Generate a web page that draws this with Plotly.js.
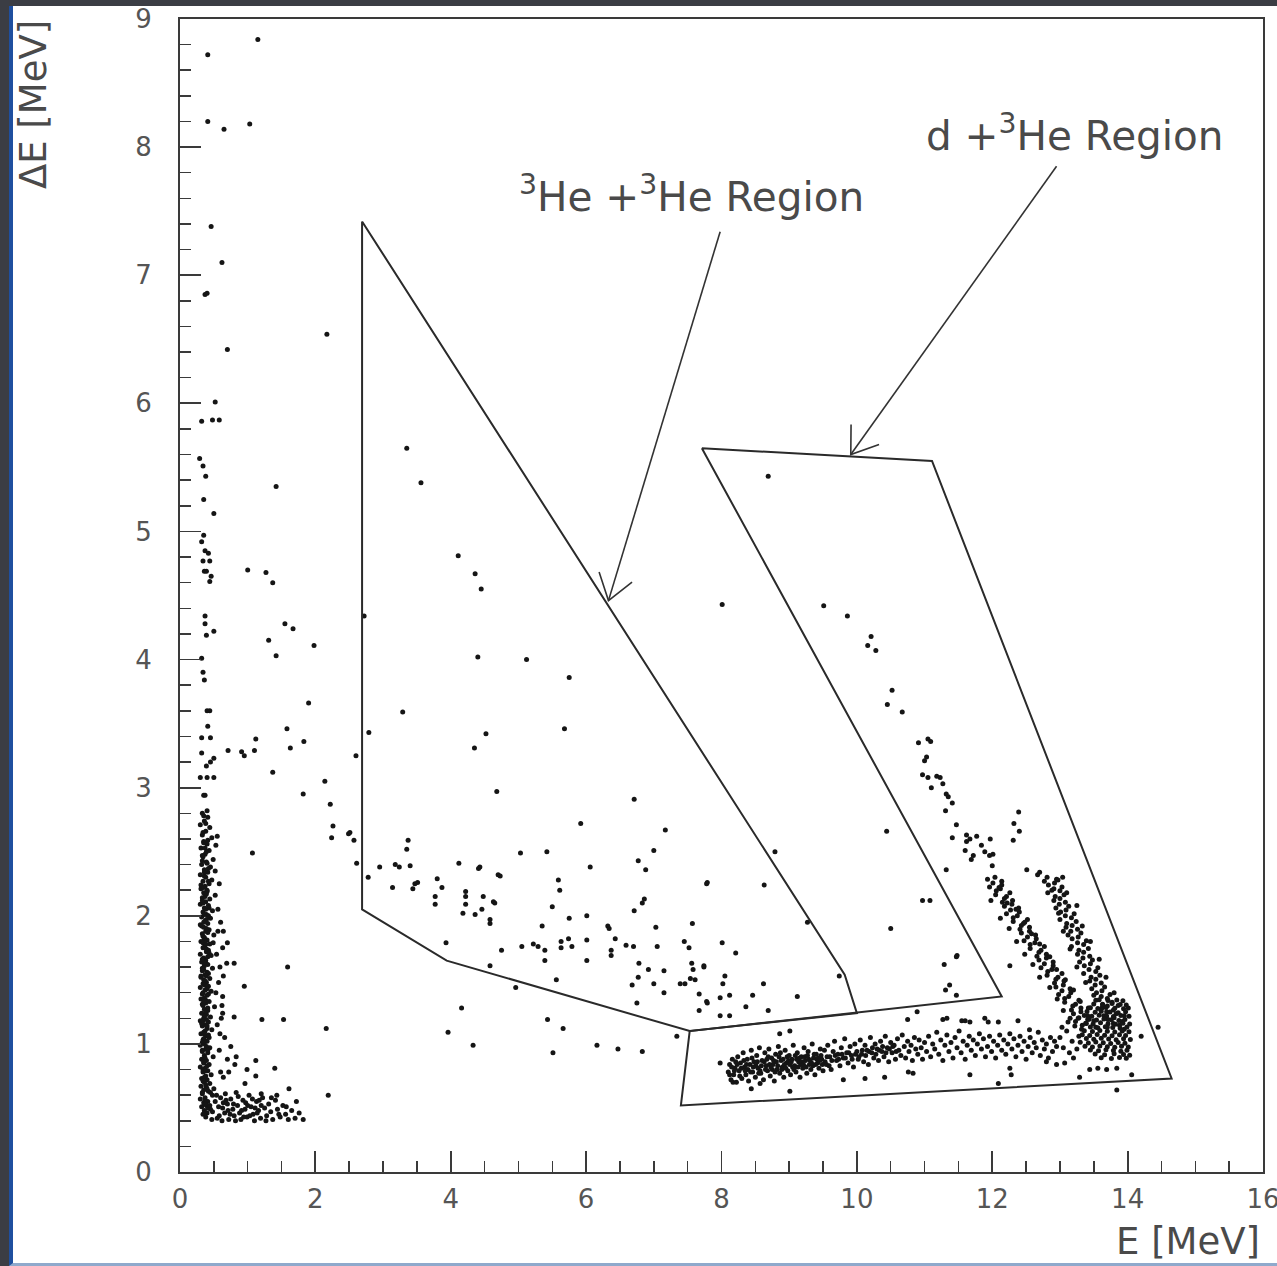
<!DOCTYPE html>
<html>
<head>
<meta charset="utf-8">
<script src="https://cdn.plot.ly/plotly-3.0.1.min.js"></script>
<style>
  html, body { margin: 0; padding: 0; background: #3b3d44; width: 1277px; height: 1266px; overflow: hidden; }
  #frame { position: absolute; left: 9px; top: 6px; width: 1264px; height: 1257px;
           background: #ffffff; border-left: 4px solid #1f4f9f; border-bottom: 3px solid #8fa9cc; }
  #chart { width: 1264px; height: 1257px; }
</style>
</head>
<body>
<div id="frame"><div id="chart"></div></div>
<script>
// E (MeV) vs dE (MeV) event pairs, grouped by where they sit in the plot.

// Sparse events near the left axis, upper part
const sparseLeft = [
  [1.15,8.84],[0.41,8.72],[0.41,8.20],[0.65,8.14],[1.03,8.18],[0.46,7.38],[0.62,7.10],[0.37,6.85],[0.40,6.86],
  [2.17,6.54],[0.70,6.42],[0.52,6.01],[0.32,5.86],[0.48,5.87],[0.58,5.87],[0.29,5.57],[0.34,5.51],[0.38,5.43],
  [1.42,5.35],[0.35,5.25],[0.50,5.14],[0.35,4.97],[0.32,4.92],[0.37,4.85],[0.42,4.83],[0.34,4.77],[0.44,4.77],
  [0.36,4.69],[0.39,4.69],[1.00,4.70],[1.27,4.68],[1.37,4.60],[0.46,4.65],[0.44,4.61],[0.37,4.34],[0.37,4.28],
  [0.39,4.19],[0.50,4.22],[1.55,4.28],[1.67,4.24],[1.31,4.15],[1.98,4.11],[1.42,4.03],[0.32,4.01],[0.34,3.90],
  [0.36,3.84],[1.90,3.66],[0.40,3.60],[0.44,3.60],[0.41,3.48],[1.58,3.46],[0.32,3.39],[0.45,3.39],[1.12,3.38],
  [1.83,3.36],[1.63,3.31],[0.71,3.29],[0.91,3.28],[0.95,3.25],[1.10,3.29],[0.32,3.27],[0.50,3.23],[0.45,3.20],
  [0.39,3.17],[2.60,3.25],[1.37,3.12],[0.40,3.08],[0.50,3.08],[0.30,3.08],[2.14,3.05],[1.82,2.95],[0.35,2.94],
  [0.37,2.94],[2.22,2.87],[0.40,2.82],[0.35,2.78]
];

// Sparse events to the right of the left band, lower part
const sparseLeftLow = [
  [2.26,2.70],[2.24,2.61],[2.49,2.64],[1.07,2.49],[0.64,1.88],[0.70,1.79],[0.63,1.75],[0.49,1.79],[0.69,1.63],
  [0.80,1.63],[1.59,1.60],[0.64,1.53],[0.95,1.45],[0.63,1.37],[0.63,1.24],[0.80,1.21],[1.21,1.19],[1.53,1.19],
  [2.16,1.12],[0.59,1.08],[0.75,0.98],[0.83,0.90],[1.12,0.87],[0.81,0.84],[1.40,0.81],[0.99,0.80],[1.12,0.75],
  [0.64,0.74],[0.72,0.78],[0.96,0.69],[1.61,0.65],[2.19,0.60],[1.20,0.61],[1.43,0.60],[1.72,0.55],[1.57,0.51],
  [0.55,2.62],[0.53,2.55],[0.58,2.25],[0.56,2.05],[0.60,1.95],[0.54,1.70],[0.57,1.48],[0.62,1.30],[0.55,1.15],
  [0.66,1.05],[0.58,0.95],[0.70,0.88],[0.60,0.78],[0.52,2.35],[0.56,1.88],[0.59,1.60],[0.53,1.40],[0.61,1.20]
];

// Dense vertical band at low E
const leftBand = [
  [0.33,2.80],[0.41,2.77],[0.36,2.74],[0.30,2.71],[0.44,2.69],[0.38,2.66],[0.33,2.63],[0.47,2.61],[0.35,2.58],
  [0.40,2.56],[0.31,2.53],[0.43,2.51],[0.37,2.48],[0.34,2.46],[0.49,2.44],[0.39,2.42],[0.32,2.40],[0.45,2.38],
  [0.36,2.36],[0.41,2.34],[0.30,2.32],[0.38,2.30],[0.47,2.28],[0.34,2.27],[0.43,2.25],[0.37,2.23],[0.31,2.21],
  [0.40,2.19],[0.35,2.18],[0.52,2.16],[0.33,2.14],[0.44,2.13],[0.38,2.11],[0.30,2.09],[0.42,2.08],[0.36,2.06],
  [0.48,2.04],[0.34,2.03],[0.39,2.01],[0.32,1.99],[0.45,1.98],[0.37,1.96],[0.41,1.94],[0.30,1.93],[0.35,1.91],
  [0.43,1.89],[0.38,1.88],[0.33,1.86],[0.50,1.85],[0.36,1.83],[0.40,1.81],[0.31,1.80],[0.44,1.78],[0.37,1.77],
  [0.34,1.75],[0.42,1.73],[0.39,1.72],[0.30,1.70],[0.46,1.69],[0.35,1.67],[0.38,1.65],[0.32,1.64],[0.41,1.62],
  [0.36,1.61],[0.48,1.59],[0.33,1.57],[0.40,1.56],[0.37,1.54],[0.31,1.53],[0.44,1.51],[0.35,1.50],[0.39,1.48],
  [0.34,1.47],[0.42,1.45],[0.30,1.44],[0.37,1.42],[0.46,1.41],[0.33,1.39],[0.40,1.38],[0.36,1.36],[0.31,1.35],
  [0.43,1.33],[0.38,1.32],[0.34,1.30],[0.51,1.29],[0.36,1.27],[0.41,1.26],[0.32,1.24],[0.39,1.23],[0.45,1.21],
  [0.35,1.20],[0.30,1.18],[0.42,1.17],[0.37,1.15],[0.33,1.14],[0.40,1.12],[0.47,1.11],[0.35,1.09],[0.31,1.08],
  [0.38,1.06],[0.43,1.05],[0.34,1.03],[0.40,1.02],[0.36,1.00],[0.30,0.99],[0.44,0.97],[0.38,0.96],[0.33,0.94],
  [0.41,0.93],[0.36,0.91],[0.49,0.90],[0.32,0.88],[0.39,0.87],[0.35,0.85],[0.43,0.84],[0.30,0.82],[0.37,0.81],
  [0.41,0.79],[0.34,0.78],[0.46,0.76],[0.38,0.75],[0.32,0.73],[0.40,0.72],[0.36,0.70],[0.44,0.69],[0.31,0.67],
  [0.39,0.66],[0.35,0.64],[0.42,0.63],[0.33,0.61],[0.48,0.60],[0.37,0.58],[0.30,0.57],[0.41,0.55],[0.35,0.54],
  [0.39,0.52],[0.32,0.51],[0.45,0.49],[0.36,0.48],[0.40,0.46],[0.34,0.45],[0.38,0.43],
  [0.35,2.57],[0.39,2.50],[0.33,2.43],[0.42,2.37],[0.36,2.31],[0.31,2.24],[0.40,2.20],[0.37,2.15],[0.34,2.10],
  [0.43,2.06],[0.36,2.01],[0.39,1.97],[0.32,1.92],[0.41,1.87],[0.36,1.82],[0.34,1.79],[0.39,1.74],[0.43,1.71],
  [0.33,1.66],[0.38,1.63],[0.35,1.58],[0.42,1.55],[0.31,1.52],[0.37,1.49],[0.40,1.43],[0.34,1.40],[0.38,1.34],
  [0.33,1.31],[0.41,1.28],[0.36,1.22],[0.39,1.19],[0.32,1.16],[0.37,1.10],[0.42,1.07],[0.35,1.04],[0.39,0.98],
  [0.33,0.95],[0.37,0.89],[0.40,0.83],[0.34,0.80],[0.36,0.74],[0.38,0.68],[0.33,0.62],[0.37,0.56],[0.41,0.50],
  [0.38,2.72],[0.34,2.65],[0.41,2.59],[0.37,2.53],[0.33,2.47],[0.40,2.41],[0.36,2.34],[0.42,2.27],[0.35,2.22],
  [0.39,2.17],[0.33,2.12],[0.38,2.05],[0.42,2.00],[0.35,1.95],[0.39,1.90],[0.34,1.84],[0.38,1.78],[0.41,1.68],
  [0.36,1.63],[0.33,1.59],[0.39,1.53],[0.36,1.46],[0.42,1.39],[0.35,1.33],[0.38,1.25],[0.34,1.18],[0.40,1.14],
  [0.36,1.08],[0.33,1.01],[0.41,0.95],[0.35,0.86],[0.38,0.79],[0.34,0.71],[0.40,0.65],[0.37,0.53],[0.36,0.46]
];

// Low-dE spray at the foot of the left band
const leftFoot = [
  [0.45,0.62],[0.52,0.55],[0.48,0.47],[0.55,0.42],[0.60,0.58],[0.63,0.50],[0.58,0.44],[0.67,0.61],[0.70,0.53],
  [0.66,0.46],[0.72,0.41],[0.75,0.57],[0.78,0.49],[0.80,0.44],[0.83,0.62],[0.85,0.52],[0.88,0.46],[0.90,0.41],
  [0.93,0.56],[0.96,0.49],[0.99,0.43],[1.02,0.60],[1.05,0.51],[1.08,0.45],[1.10,0.40],[1.13,0.55],[1.16,0.48],
  [1.19,0.42],[1.22,0.58],[1.25,0.50],[1.28,0.44],[1.31,0.53],[1.34,0.47],[1.37,0.41],[1.41,0.56],[1.44,0.49],
  [1.48,0.43],[1.52,0.52],[1.56,0.45],[1.60,0.41],[1.65,0.48],[1.70,0.42],[1.76,0.46],[1.82,0.41],[0.50,0.65],
  [0.57,0.51],[0.62,0.40],[0.68,0.56],[0.74,0.45],[0.79,0.53],[0.86,0.59],[0.91,0.48],[0.97,0.54],[1.03,0.44],
  [1.07,0.57],[1.14,0.46],[1.20,0.52],[1.27,0.40],[1.35,0.58],[1.46,0.45],[0.44,0.52],[0.47,0.41],[0.54,0.60],
  [0.64,0.54],[0.71,0.48],[0.82,0.40],[0.94,0.43],[1.00,0.52],[1.11,0.50],[1.17,0.56]
];

// Scattered events in the middle of the plot
const sparseMiddle = [
  [3.35,5.65],[3.56,5.38],[4.11,4.81],[4.36,4.67],[4.45,4.55],[2.72,4.34],[4.40,4.02],[5.12,4.00],[5.75,3.86],
  [3.29,3.59],[2.79,3.43],[4.52,3.42],[5.68,3.46],[4.35,3.31],[4.68,2.97],[6.71,2.91],[5.92,2.72],[7.17,2.67],
  [2.51,2.65],[2.57,2.59],[3.37,2.59],[3.35,2.52],[5.03,2.49],[5.42,2.50],[7.00,2.51],[2.61,2.41],[2.95,2.38],
  [3.18,2.40],[3.24,2.38],[3.40,2.39],[4.12,2.41],[4.43,2.38],[4.41,2.37],[6.06,2.38],[6.77,2.43],[6.88,2.36],
  [2.78,2.30],[3.14,2.22],[3.47,2.25],[3.44,2.21],[3.51,2.26],[3.80,2.29],[3.87,2.22],[4.70,2.32],[4.73,2.31],
  [5.59,2.28],[5.61,2.20],[4.22,2.19],[3.77,2.15],[3.77,2.09],[4.22,2.15],[4.22,2.09],[4.48,2.15],[4.46,2.05],
  [4.63,2.11],[4.65,2.10],[4.36,2.01],[4.18,2.02],[4.58,1.97],[4.58,1.94],[5.50,2.07],[6.86,2.13],[6.83,2.10],
  [6.71,2.04],[5.75,1.98],[6.01,2.00],[5.35,1.92],[6.32,1.92],[6.34,1.90],[7.03,1.91],[7.57,1.94],[7.79,2.26],
  [3.93,1.79],[4.75,1.73],[5.05,1.76],[5.22,1.78],[5.29,1.76],[5.39,1.73],[5.39,1.65],[5.63,1.80],[5.63,1.75],
  [5.74,1.82],[5.79,1.76],[6.01,1.81],[6.01,1.65],[6.43,1.82],[6.37,1.73],[6.37,1.69],[6.59,1.77],[6.70,1.76],
  [7.05,1.76],[7.45,1.80],[7.52,1.75],[6.78,1.63],[6.92,1.58],[7.15,1.57],[6.77,1.52],[6.68,1.46],[7.00,1.47],
  [7.15,1.40],[6.75,1.32],[7.39,1.47],[7.46,1.47],[7.54,1.51],[7.61,1.50],[7.58,1.58],[7.56,1.63],[7.74,1.60],
  [7.67,1.39],[7.79,1.32],[7.67,1.26],[4.58,1.61],[4.96,1.44],[5.56,1.50],[4.16,1.28],[3.96,1.09],[4.33,0.99],
  [5.43,1.19],[5.66,1.12],[5.51,0.93],[6.16,0.99],[6.47,0.96],[6.83,0.94],[7.34,1.06]
];

// Scattered events on the right-hand side
const sparseRight = [
  [8.69,5.43],[8.01,4.43],[9.51,4.42],[9.86,4.34],[10.21,4.18],[10.16,4.11],[10.28,4.07],[10.52,3.76],[10.45,3.65],
  [10.67,3.59],[10.91,3.35],[11.05,3.38],[11.09,3.36],[11.03,3.24],[11.00,3.21],[10.97,3.10],[11.05,3.08],[11.18,3.09],
  [11.23,3.08],[11.27,3.03],[11.10,3.00],[11.32,2.95],[11.35,2.93],[11.41,2.88],[11.31,2.82],[11.47,2.71],[12.39,2.81],
  [12.32,2.72],[12.40,2.66],[12.31,2.59],[10.44,2.66],[11.41,2.61],[11.62,2.63],[11.67,2.60],[11.77,2.62],[11.62,2.58],
  [11.97,2.60],[11.60,2.51],[11.72,2.47],[11.69,2.44],[11.84,2.55],[11.89,2.50],[11.96,2.47],[12.01,2.48],[12.00,2.39],
  [11.32,2.36],[12.51,2.36],[12.67,2.32],[8.79,2.50],[7.78,2.25],[8.63,2.24],[10.97,2.12],[11.08,2.12],[10.50,1.90],
  [9.27,1.95],[8.01,1.79],[8.21,1.71],[11.48,1.69],[11.29,1.62],[12.26,1.61],[7.74,1.61],[8.05,1.53],[9.74,1.53],
  [8.02,1.47],[8.62,1.47],[11.31,1.42],[11.47,1.38],[11.37,1.46],[8.12,1.38],[7.98,1.36],[7.78,1.33],[8.46,1.38],
  [9.12,1.37],[8.36,1.29],[8.69,1.26],[7.98,1.22],[8.12,1.22],[11.47,1.68],[12.70,2.34],[13.04,2.30],[12.97,2.28],
  [10.89,1.25],[10.75,1.19],[11.27,1.19],[11.33,1.20],[11.55,1.18],[11.60,1.18],[11.89,1.20],[11.94,1.17],[12.09,1.17],
  [12.38,1.18],[12.55,1.11],[7.98,0.85],[8.12,0.76],[8.17,0.70],[8.44,0.65],[8.57,0.69],[9.01,0.63],[8.86,1.08],
  [9.01,1.10],[9.80,0.72],[10.12,0.73],[10.41,0.74],[10.76,0.78],[10.83,0.77],[11.67,0.76],[12.09,0.69],[12.26,0.81],
  [12.28,0.76],[12.80,0.86],[12.95,0.84],[13.07,0.85],[13.29,0.74],[13.44,0.80],[13.56,0.81],[13.69,0.80],[13.84,0.81],
  [13.84,0.64],[14.06,0.76],[14.45,1.13],[14.20,1.06],[11.67,1.17]
];

// Horizontal band at dE ~ 0.9 MeV
const flatBand = [
  [8.10,0.78],[8.12,0.84],[8.14,0.72],[8.16,0.88],[8.18,0.76],[8.20,0.81],[8.22,0.70],[8.24,0.90],[8.26,0.79],
  [8.28,0.85],[8.30,0.73],[8.32,0.93],[8.34,0.82],[8.36,0.76],[8.38,0.88],[8.40,0.71],[8.42,0.84],[8.44,0.95],
  [8.46,0.78],[8.48,0.86],[8.50,0.74],[8.52,0.91],[8.54,0.81],[8.56,0.97],[8.58,0.77],[8.60,0.87],[8.62,0.72],
  [8.64,0.93],[8.66,0.83],[8.68,0.79],[8.70,0.96],[8.72,0.75],[8.74,0.89],[8.76,0.84],[8.78,0.71],[8.80,0.92],
  [8.82,0.80],[8.84,0.98],[8.86,0.77],[8.88,0.87],[8.90,0.82],[8.92,0.74],[8.94,0.95],[8.96,0.85],[8.98,0.79],
  [9.00,0.91],[9.02,0.76],[9.04,0.88],[9.06,0.99],[9.08,0.83],[9.10,0.78],[9.12,0.93],[9.14,0.86],[9.16,0.74],
  [9.18,0.90],[9.20,0.81],[9.22,0.97],[9.24,0.87],[9.26,0.77],[9.28,0.94],[9.30,0.84],[9.32,0.80],[9.34,1.00],
  [9.36,0.89],[9.38,0.76],[9.40,0.92],[9.42,0.85],[9.44,0.81],[9.46,0.96],[9.48,0.88],[9.50,0.79],
  [8.21,0.86],[8.27,0.75],[8.33,0.87],[8.39,0.80],[8.45,0.89],[8.51,0.83],[8.57,0.79],[8.63,0.86],[8.69,0.90],
  [8.75,0.80],[8.81,0.86],[8.87,0.93],[8.93,0.84],[8.99,0.87],[9.05,0.82],[9.11,0.88],[9.17,0.84],[9.23,0.90],
  [9.29,0.88],[9.35,0.83],[9.41,0.88],[9.47,0.91],[9.53,0.86],[9.59,0.83],
  [8.15,0.82],[8.19,0.79],[8.23,0.84],[8.29,0.81],[8.35,0.79],[8.37,0.84],[8.43,0.78],[8.47,0.82],[8.53,0.86],
  [8.55,0.77],[8.59,0.83],[8.65,0.80],[8.67,0.88],[8.71,0.84],[8.73,0.82],[8.77,0.87],[8.79,0.78],[8.83,0.83],
  [8.85,0.90],[8.89,0.80],[8.91,0.88],[8.95,0.81],[8.97,0.90],[9.01,0.84],[9.03,0.86],[9.07,0.80],[9.09,0.91],
  [9.13,0.82],[9.15,0.89],[9.19,0.86],[9.21,0.84],[9.25,0.82],[9.27,0.91],[9.31,0.87],[9.33,0.85],[9.37,0.92],
  [9.39,0.84],[9.43,0.89],[9.45,0.87],[9.49,0.84],[9.56,0.90],[9.63,0.87],[9.68,0.91],[9.73,0.88],[9.78,0.92],
  [9.83,0.89],[9.88,0.93],[9.93,0.88],[9.98,0.92],[10.03,0.90],[10.08,0.95],[10.13,0.91],[10.18,0.94],[10.23,0.97],
  [10.28,0.92],[10.33,0.95],[10.38,0.98],[10.43,0.93],[10.48,0.96],[10.53,0.98],[10.58,0.94],
  [9.52,0.95],[9.55,0.84],[9.57,0.99],[9.60,0.90],[9.62,0.80],[9.65,0.94],[9.67,1.02],[9.70,0.87],[9.72,0.92],
  [9.75,0.83],[9.77,0.97],[9.80,0.89],[9.82,1.04],[9.85,0.93],[9.87,0.85],[9.90,0.98],[9.92,0.91],[9.95,0.82],
  [9.97,1.00],[10.00,0.94],[10.02,0.88],[10.05,1.03],[10.07,0.92],[10.10,0.86],[10.12,0.99],[10.15,0.95],[10.17,0.84],
  [10.20,1.05],[10.22,0.93],[10.25,0.89],[10.27,1.00],[10.30,0.96],[10.32,0.87],[10.35,1.02],[10.37,0.94],[10.40,0.90],
  [10.42,1.06],[10.45,0.97],[10.47,0.86],[10.50,1.01],[10.52,0.93],[10.55,0.99],[10.57,0.88],[10.60,1.04],[10.62,0.95],
  [10.65,0.91],[10.67,1.07],[10.70,0.98],[10.72,0.89],[10.75,1.02],[10.77,0.94],[10.80,0.99],[10.82,0.87],[10.85,1.05],
  [10.87,0.96],[10.90,0.92],[10.92,1.03],[10.95,0.97],[10.97,0.88],[11.00,1.01],
  [11.03,0.94],[11.06,1.06],[11.09,0.90],[11.12,1.00],[11.15,0.96],[11.18,1.09],[11.21,0.92],[11.24,1.03],[11.27,0.87],
  [11.30,0.99],[11.33,1.07],[11.36,0.94],[11.39,1.01],[11.42,0.89],[11.45,1.05],[11.48,0.97],[11.51,1.10],[11.54,0.93],
  [11.57,1.02],[11.60,0.88],[11.63,0.99],[11.66,1.06],[11.69,0.95],[11.72,1.03],[11.75,0.91],[11.78,1.00],[11.81,1.08],
  [11.84,0.96],[11.87,1.04],[11.90,0.90],[11.93,0.98],[11.96,1.06],[11.99,0.94],[12.02,1.02],[12.05,0.89],[12.08,0.99],
  [12.11,1.07],[12.14,0.95],[12.17,1.03],[12.20,0.92],[12.23,1.00],[12.26,1.08],[12.29,0.96],[12.32,1.04],[12.35,0.90],
  [12.38,0.99],[12.41,1.06],[12.44,0.94],[12.47,1.02],[12.50,0.88],[12.53,0.98],[12.56,1.05],[12.59,0.93],[12.62,1.01],
  [12.65,0.97],[12.68,1.09],[12.71,0.91],[12.74,1.03],[12.77,0.96],[12.80,1.00],[12.83,0.89],[12.86,1.05],[12.89,0.94],
  [12.92,1.02],[12.95,0.98],
  [13.00,1.05],[13.05,0.97],[13.10,1.10],[13.14,0.93],[13.18,1.02],[13.22,1.14],[13.25,0.96],[13.28,1.06],[13.12,1.17],
  [13.20,0.89],[13.03,1.13],[13.27,1.20]
];

// Left diagonal band falling towards the corner cluster
const diagonalA = [
  [12.04,2.30],[11.93,2.285],[12.14,2.27],[12.01,2.255],[12.14,2.24],[11.96,2.225],[12.12,2.21],[12.06,2.195],[12.26,2.18],
  [12.05,2.165],[12.21,2.15],[12.18,2.135],[12.30,2.12],[12.15,2.105],[12.29,2.09],[12.18,2.075],[12.39,2.06],[12.27,2.045],
  [12.40,2.03],[12.21,2.015],[12.37,2.00],[12.31,1.985],[12.52,1.97],[12.31,1.955],[12.46,1.94],[12.43,1.925],[12.55,1.91],
  [12.41,1.895],[12.55,1.88],[12.43,1.865],[12.64,1.85],[12.52,1.835],[12.65,1.82],[12.47,1.805],[12.63,1.79],[12.56,1.775],
  [12.77,1.76],[12.56,1.745],[12.72,1.73],[12.69,1.715],[12.80,1.70],[12.66,1.685],[12.80,1.67],[12.69,1.655],[12.90,1.64],
  [12.77,1.625],[12.90,1.61],[12.72,1.595],[12.88,1.58],[12.82,1.565],[13.03,1.55],[12.81,1.535],[12.97,1.52],[12.94,1.505],
  [13.06,1.49],[12.92,1.475],[13.05,1.46],[12.94,1.445],[13.15,1.43],[13.03,1.415],[13.16,1.40],[12.98,1.385],[13.13,1.37],
  [13.07,1.355],[13.28,1.34],[13.07,1.325],[13.23,1.31],[13.19,1.295],[13.31,1.28],[13.17,1.265],[13.31,1.25],[13.20,1.235],
  [13.41,1.22],[13.28,1.205],[13.41,1.19],[13.23,1.175],[13.39,1.16],[13.33,1.145],[13.53,1.13],[13.32,1.115],
  [12.10,2.22],[12.22,2.10],[11.98,2.12],[12.35,2.05],[12.12,1.98],[12.48,1.95],[12.25,1.90],[12.58,1.86],[12.36,1.80],
  [12.70,1.78],[12.48,1.70],[12.85,1.68],[12.60,1.62],[12.95,1.58],[12.70,1.52],[13.08,1.50],[12.85,1.44],[13.20,1.42],
  [12.96,1.35],[13.30,1.33],[13.05,1.26],[13.42,1.28],[13.15,1.20],[13.50,1.18]
];

// Right diagonal band
const diagonalB = [
  [12.81,2.30],[12.95,2.285],[12.77,2.27],[12.92,2.255],[12.83,2.24],[13.03,2.225],[12.91,2.21],[13.00,2.195],[12.82,2.18],
  [13.06,2.165],[12.93,2.15],[13.00,2.135],[12.91,2.12],[13.08,2.105],[12.99,2.09],[13.13,2.075],[12.94,2.06],[13.09,2.045],
  [13.01,2.03],[13.21,2.015],[13.08,2.00],[13.17,1.985],[13.00,1.97],[13.24,1.955],[13.10,1.94],[13.18,1.925],[13.09,1.91],
  [13.26,1.895],[13.16,1.88],[13.31,1.865],[13.12,1.85],[13.27,1.835],[13.18,1.82],[13.39,1.805],[13.26,1.79],[13.35,1.775],
  [13.17,1.76],[13.42,1.745],[13.28,1.73],[13.35,1.715],[13.26,1.70],[13.44,1.685],[13.34,1.67],[13.48,1.655],[13.29,1.64],
  [13.45,1.625],[13.36,1.61],[13.56,1.595],[13.43,1.58],[13.53,1.565],[13.35,1.55],[13.59,1.535],[13.46,1.52],[13.53,1.505],
  [13.44,1.49],[13.61,1.475],[13.52,1.46],[13.66,1.445],[13.47,1.43],[13.62,1.415],[13.54,1.40],[13.74,1.385],[13.61,1.37],
  [13.70,1.355],[13.53,1.34],[13.77,1.325],[13.63,1.31],[13.70,1.295],[13.62,1.28],[13.79,1.265],[13.69,1.25],[13.83,1.235],
  [13.65,1.22],[13.80,1.205],[13.71,1.19],[13.92,1.175],[13.79,1.16],[13.88,1.145],[13.70,1.13],[13.95,1.115],
  [12.88,2.20],[13.10,2.18],[12.98,2.02],[13.25,2.08],[13.05,1.88],[13.33,1.92],[13.15,1.74],[13.45,1.80],[13.25,1.60],
  [13.58,1.66],[13.38,1.48],[13.68,1.52],[13.50,1.38],[13.80,1.40],[13.86,1.30],[13.95,1.22]
];

// Dense cluster where the bands meet
const cornerCluster = [
  [13.58,1.345],[13.71,1.338],[13.84,1.342],[13.93,1.336],
  [13.50,1.312],[13.63,1.306],[13.77,1.315],[13.89,1.308],[13.98,1.303],
  [13.45,1.283],[13.56,1.277],[13.68,1.285],[13.81,1.279],[13.94,1.274],[14.01,1.281],
  [13.40,1.252],[13.52,1.246],[13.61,1.255],[13.74,1.248],[13.86,1.243],[13.97,1.251],
  [13.36,1.222],[13.47,1.216],[13.58,1.224],[13.69,1.218],[13.79,1.213],[13.90,1.221],[14.02,1.215],
  [13.43,1.192],[13.54,1.186],[13.65,1.194],[13.76,1.188],[13.87,1.183],[13.96,1.191],
  [13.38,1.162],[13.49,1.156],[13.60,1.165],[13.71,1.158],[13.82,1.153],[13.93,1.161],[14.03,1.155],
  [13.45,1.132],[13.56,1.126],[13.67,1.134],[13.78,1.128],[13.89,1.123],[13.99,1.131],
  [13.36,1.102],[13.48,1.096],[13.59,1.104],[13.70,1.098],[13.81,1.093],[13.92,1.101],[14.02,1.095],
  [13.33,1.072],[13.44,1.066],[13.55,1.074],[13.66,1.068],[13.77,1.063],[13.88,1.071],[13.97,1.065],
  [13.39,1.042],[13.50,1.036],[13.61,1.044],[13.72,1.038],[13.83,1.033],[13.94,1.041],[14.04,1.035],
  [13.30,1.012],[13.42,1.006],[13.53,1.014],[13.64,1.008],[13.75,1.003],[13.86,1.011],[13.96,1.005],
  [13.37,0.982],[13.48,0.976],[13.59,0.984],[13.70,0.978],[13.81,0.973],[13.91,0.981],[14.01,0.975],
  [13.45,0.952],[13.57,0.946],[13.68,0.954],[13.79,0.948],[13.90,0.943],[13.99,0.951],
  [13.52,0.922],[13.66,0.916],[13.80,0.924],[13.94,0.918],[14.03,0.912],
  [13.61,0.892],[13.76,0.886],[13.88,0.894],[13.98,0.888]
];

// Selection cut outlines (E, dE vertices)
const cutHeHe = [[2.69,7.42],[2.69,2.05],[3.94,1.65],[7.53,1.10],[10.00,1.24],[9.82,1.54],[2.69,7.42]];
const cutDHe  = [[7.71,5.65],[11.11,5.55],[14.65,0.73],[7.40,0.52],[7.53,1.10],[12.14,1.37],[7.71,5.65]];

// Region labels and their pointer arrows: [tailE, tailDE, headE, headDE]
const labelTexts = ['<sup>3</sup>He +<sup>3</sup>He Region', 'd +<sup>3</sup>He Region'];
const labelPos   = [[7.56, 7.63], [13.21, 8.11]];
const arrowLines = [[7.98, 7.34, 6.33, 4.46], [12.95, 7.85, 9.91, 5.60]];

const X_RANGE = [0, 16], Y_RANGE = [0, 9];
const PLOT_W = 1083, PLOT_H = 1153;

const allPoints = [].concat(sparseLeft, sparseLeftLow, leftBand, leftFoot, sparseMiddle,
                            sparseRight, flatBand, diagonalA, diagonalB, cornerCluster);

const lineColor = '#2a2a2a';
const traces = [];

traces.push({
  type: 'scatter', mode: 'markers',
  x: allPoints.map(p => p[0]), y: allPoints.map(p => p[1]),
  marker: { size: 5, color: '#151515' },
  hoverinfo: 'skip', showlegend: false
});

[cutHeHe, cutDHe].forEach(poly => {
  traces.push({
    type: 'scatter', mode: 'lines',
    x: poly.map(p => p[0]), y: poly.map(p => p[1]),
    line: { color: lineColor, width: 2 },
    hoverinfo: 'skip', showlegend: false
  });
});

// Arrows: shaft plus an open V head, head size set in screen pixels
const sx = PLOT_W / (X_RANGE[1] - X_RANGE[0]);
const sy = PLOT_H / (Y_RANGE[1] - Y_RANGE[0]);
arrowLines.forEach(a => {
  const [tx, ty, hx, hy] = a;
  const dx = (hx - tx) * sx, dy = (hy - ty) * sy;
  const L = Math.hypot(dx, dy);
  const bx = -dx / L, by = -dy / L;
  const len = 30, ang = 35 * Math.PI / 180;
  const arm = s => {
    const c = Math.cos(s * ang), n = Math.sin(s * ang);
    const rx = bx * c - by * n, ry = bx * n + by * c;
    return [hx + rx * len / sx, hy + ry * len / sy];
  };
  const a1 = arm(1), a2 = arm(-1);
  traces.push({
    type: 'scatter', mode: 'lines',
    x: [tx, hx, null, a1[0], hx, a2[0]],
    y: [ty, hy, null, a1[1], hy, a2[1]],
    line: { color: '#333333', width: 1.6 },
    hoverinfo: 'skip', showlegend: false
  });
});

const textColor = '#4a4a4a';
const annotations = labelTexts.map((t, i) => ({
  x: labelPos[i][0], y: labelPos[i][1], xref: 'x', yref: 'y',
  text: t, showarrow: false, xanchor: 'center', yanchor: 'middle',
  font: { family: 'DejaVu Sans', size: 40.5, color: textColor }
}));

annotations.push({
  xref: 'paper', yref: 'paper', x: -0.135, y: 0.926,
  text: '\u0394E [MeV]', textangle: -90, showarrow: false,
  xanchor: 'center', yanchor: 'middle',
  font: { family: 'DejaVu Sans', size: 37, color: textColor }
});
annotations.push({
  xref: 'paper', yref: 'paper', x: 0.931, y: -0.060,
  text: 'E [MeV]', showarrow: false, xanchor: 'center', yanchor: 'middle',
  font: { family: 'DejaVu Sans', size: 37, color: textColor }
});

const axisCommon = {
  showgrid: false, zeroline: false,
  showline: true, mirror: true, linecolor: '#3a3a3a', linewidth: 2,
  ticks: 'inside', ticklen: 21, tickwidth: 1.8, tickcolor: '#3a3a3a',
  tickfont: { family: 'DejaVu Sans', size: 26, color: '#555555' },
  ticklabeloverflow: 'allow',
  fixedrange: true
};

const layout = {
  width: 1264, height: 1257,
  margin: { l: 167, r: 14, t: 13, b: 91 },
  paper_bgcolor: '#ffffff', plot_bgcolor: '#ffffff',
  showlegend: false,
  xaxis: Object.assign({}, axisCommon, {
    range: X_RANGE, tick0: 0, dtick: 2, ticklabelstandoff: 3,
    minor: { ticks: 'inside', dtick: 0.5, ticklen: 11, tickwidth: 1.5, tickcolor: '#3a3a3a', showgrid: false }
  }),
  yaxis: Object.assign({}, axisCommon, {
    range: Y_RANGE, tick0: 0, dtick: 1, ticklabelstandoff: 21,
    minor: { ticks: 'inside', dtick: 0.2, ticklen: 11, tickwidth: 1.5, tickcolor: '#3a3a3a', showgrid: false }
  }),
  annotations: annotations
};

Plotly.newPlot('chart', traces, layout, { staticPlot: true, displayModeBar: false });
</script>
</body>
</html>
